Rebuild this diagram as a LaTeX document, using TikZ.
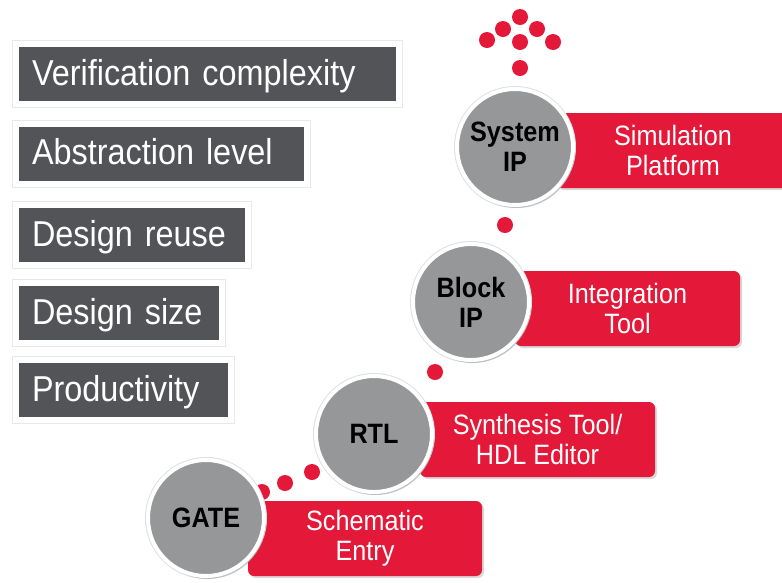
\documentclass[tikz,border=0pt]{standalone}
\usepackage{fontspec}
\setmainfont[FakeStretch=0.9]{Liberation Sans}
\usetikzlibrary{shadows}

\definecolor{toolred}{RGB}{228,24,56}
\definecolor{levelgray}{RGB}{150,151,153}
\definecolor{factorgray}{RGB}{82,84,87}

\tikzset{
  factor/.style={rectangle, fill=factorgray, draw=white, line width=6pt, anchor=west,
    outer sep=0pt, minimum height=60pt, inner xsep=16pt, inner ysep=0pt, align=left,
    text=white, text height=26pt, text depth=4pt,
    font=\fontsize{36}{40}\selectfont,
    preaction={draw=black!9, line width=8pt},
    drop shadow={opacity=0.3, shadow xshift=1pt, shadow yshift=-2pt}},
  level/.style={circle, fill=levelgray, draw=white, line width=4pt, minimum size=116pt,
    inner sep=0pt, align=center, font=\fontsize{28}{30}\selectfont\bfseries,
    preaction={draw=black!12, line width=6pt},
    drop shadow={opacity=0.35, shadow xshift=2pt, shadow yshift=-3pt}},
  tool/.style={rectangle, rounded corners=6pt, fill=toolred, text=white,
    minimum height=75pt, inner sep=0pt, align=center,
    font=\fontsize{28}{30}\selectfont,
    drop shadow={opacity=0.3, shadow xshift=2pt, shadow yshift=-2pt}},
  dot/.style={circle, fill=toolred, minimum size=16pt, inner sep=0pt}
}

\begin{document}
\begin{tikzpicture}[x=1pt,y=-1pt]

\useasboundingbox (0,0) rectangle (782,582);

% factors on the left
\node [factor, minimum width=383pt, text width=351pt] (verif) at (16,74) {Verification complexity};
\node [factor, minimum width=291pt, text width=259pt] (abstr) at (16,153.5) {Abstraction level};
\node [factor, minimum width=232pt, text width=200pt] (reuse) at (16,235) {Design reuse};
\node [factor, minimum width=206pt, text width=174pt] (size) at (16,313) {Design size};
\node [factor, minimum width=215pt, text width=183pt] (prod) at (16,390) {Productivity};

% dots
\foreach \px/\py [count=\i] in {520/17, 503/29, 537/29, 487/40, 520/42, 553/42, 520/68,
    505/225, 435/372, 312/472, 285/483, 262/492}
  \node [dot] (dot\i) at (\px,\py) {};

% tool boxes
\node [tool, minimum width=234pt] (simbox) at (673,150.5) {Simulation\\Platform};
\node [tool, minimum width=225pt] (intbox) at (627.5,308.5) {Integration\\Tool};
\node [tool, minimum width=235pt] (synbox) at (537.5,439.5) {Synthesis Tool/\\HDL Editor};
\node [tool, minimum width=234pt] (schbox) at (365,538.5) {Schematic\\Entry};

% levels
\node [level] (sys) at (515,147) {System\\IP};
\node [level] (blk) at (471,302) {Block\\IP};
\node [level] (rtl) at (374,434) {RTL};
\node [level] (gate) at (206,518) {GATE};

\end{tikzpicture}
\end{document}
